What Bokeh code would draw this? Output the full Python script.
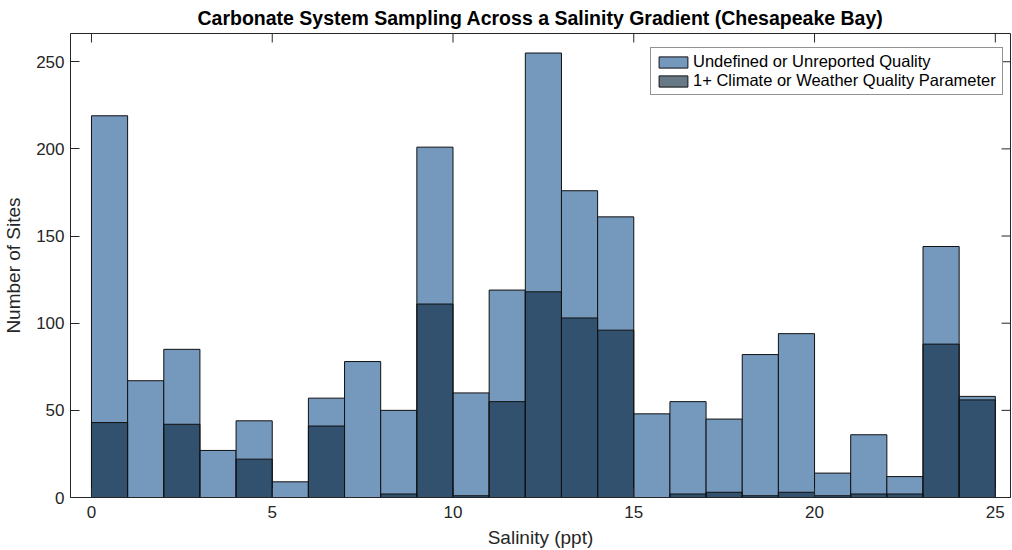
from bokeh.plotting import figure
from bokeh.models import ColumnDataSource, FixedTicker, Legend, LegendItem
from bokeh.embed import file_html
from bokeh.resources import INLINE

# Salinity bin edges (ppt)
bin_edges = list(range(26))
# Counts per bin: all sites (undefined or unreported quality)
undefined_counts = [219, 67, 85, 27, 44, 9, 57, 78, 50, 201, 60, 119, 255,
                    176, 161, 48, 55, 45, 82, 94, 14, 36, 12, 144, 58]
# Counts per bin: sites with 1+ climate or weather quality parameter
climate_counts = [43, 0, 42, 0, 22, 0, 41, 0, 2, 111, 1, 55, 118,
                  103, 96, 0, 2, 3, 1, 3, 1, 2, 2, 88, 56]

x_ticks = [0, 5, 10, 15, 20, 25]
y_ticks = [0, 50, 100, 150, 200, 250]

FONT = "Liberation Sans"
AXC = "#262626"
X0, X1 = -0.58, 25.42
Y0, Y1 = 0, 266.2
FRAME_W, FRAME_H = 940, 464

src_u = ColumnDataSource(dict(left=bin_edges[:-1], right=bin_edges[1:],
                              top=undefined_counts, bottom=[0] * len(undefined_counts)))
src_c = ColumnDataSource(dict(left=bin_edges[:-1], right=bin_edges[1:],
                              top=climate_counts, bottom=[0] * len(climate_counts)))

p = figure(frame_width=FRAME_W, frame_height=FRAME_H, x_range=(X0, X1), y_range=(Y0, Y1),
           output_backend="svg", toolbar_location=None,
           min_border_left=0, min_border_right=1, min_border_top=0, min_border_bottom=0)

r_u = p.quad(left="left", right="right", top="top", bottom="bottom", source=src_u,
             fill_color="#7598bd", line_color="#111111", line_width=1)
r_c = p.quad(left="left", right="right", top="top", bottom="bottom", source=src_c,
             fill_color="#0a253e", fill_alpha=0.62, line_color="#111111", line_width=1)

# inward ticks on the top and right edges of the box (MATLAB "box on")
TICK_PX = 9
dy = TICK_PX * (Y1 - Y0) / FRAME_H
dx = TICK_PX * (X1 - X0) / FRAME_W
p.segment(x0=x_ticks, x1=x_ticks, y0=[Y1] * len(x_ticks), y1=[Y1 - dy] * len(x_ticks),
          line_color=AXC, line_width=1)
p.segment(x0=[X1] * len(y_ticks), x1=[X1 - dx] * len(y_ticks), y0=y_ticks, y1=y_ticks,
          line_color=AXC, line_width=1)

p.xgrid.visible = False
p.ygrid.visible = False
p.outline_line_color = AXC
p.outline_line_width = 1
p.background_fill_color = "white"
p.border_fill_color = "white"

p.title.text = "Carbonate System Sampling Across a Salinity Gradient (Chesapeake Bay)"
p.title.align = "center"
p.title.text_font = FONT
p.title.text_font_size = "19.5px"
p.title.text_font_style = "bold"
p.title.text_color = "#000000"
p.title.offset = 0
p.title.standoff = 9

for ax in [p.xaxis[0], p.yaxis[0]]:
    ax.major_tick_in = TICK_PX
    ax.major_tick_out = 0
    ax.minor_tick_line_color = None
    ax.axis_line_color = AXC
    ax.major_tick_line_color = AXC
    ax.major_label_text_font = FONT
    ax.major_label_text_font_size = "17px"
    ax.major_label_text_color = AXC
    ax.axis_label_text_font = FONT
    ax.axis_label_text_font_size = "19px"
    ax.axis_label_text_font_style = "normal"
    ax.axis_label_text_color = AXC

p.xaxis[0].ticker = FixedTicker(ticks=x_ticks)
p.yaxis[0].ticker = FixedTicker(ticks=y_ticks)
p.xaxis[0].axis_label = "Salinity (ppt)"
p.yaxis[0].axis_label = "Number of Sites"
p.xaxis[0].major_label_standoff = 8
p.xaxis[0].axis_label_standoff = 6
p.yaxis[0].major_label_standoff = 6
p.yaxis[0].axis_label_standoff = 9

legend = Legend(items=[LegendItem(label="Undefined or Unreported Quality", renderers=[r_u]),
                       LegendItem(label="1+ Climate or Weather Quality Parameter", renderers=[r_c])],
                location=(580, 402), margin=0, padding=4, spacing=0,
                glyph_width=36, glyph_height=14, label_standoff=2,
                label_text_font=FONT, label_text_font_size="16.5px", label_text_color="#000000",
                label_height=19, label_width=305, border_line_color=AXC, border_line_width=1,
                background_fill_alpha=1)
p.add_layout(legend, "center")

open("out.html", "w").write(file_html(p, INLINE))
